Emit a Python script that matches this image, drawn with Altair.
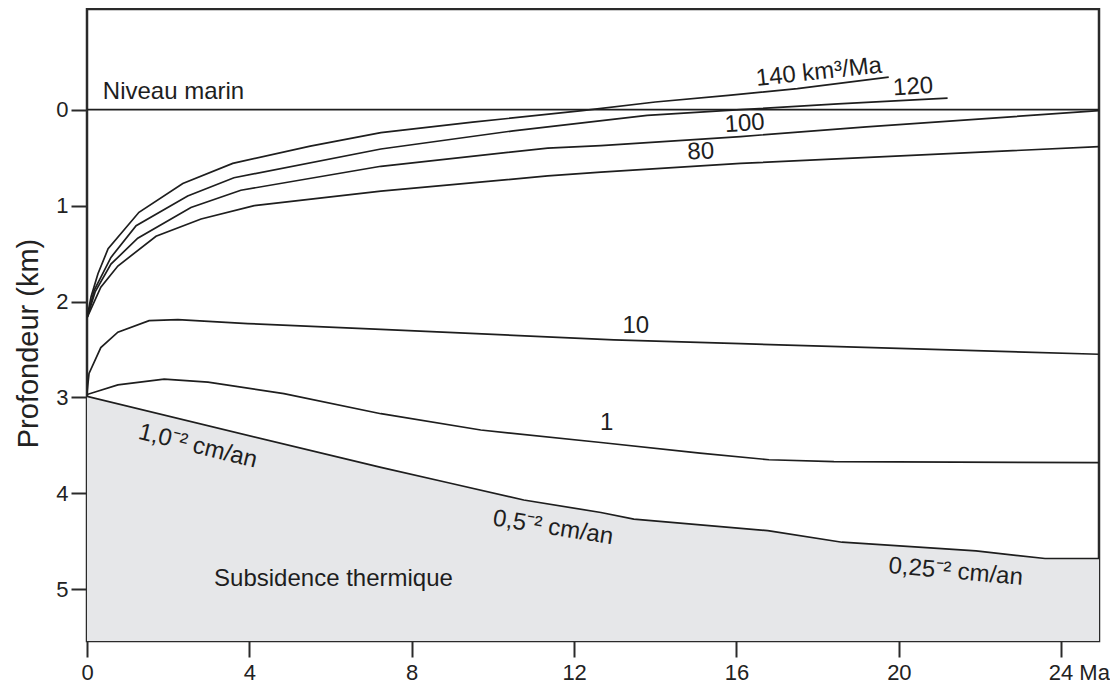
import altair as alt
import pandas as pd

# ---- data ----
age_140 = [0, 0.1, 0.27, 0.52, 1.28, 2.36, 3.59, 5.5, 7.24, 9.5, 12.2, 14.0, 15.8, 17.5, 19.75]
dep_140 = [2.17, 1.95, 1.71, 1.45, 1.07, 0.77, 0.56, 0.38, 0.24, 0.13, 0.01, -0.08, -0.15, -0.22, -0.34]

age_120 = [0, 0.18, 0.59, 1.21, 2.48, 3.62, 7.24, 10.5, 13.8, 16.1, 18.5, 21.2]
dep_120 = [2.17, 1.88, 1.54, 1.21, 0.90, 0.71, 0.41, 0.22, 0.06, 0.0, -0.06, -0.12]

age_100 = [0, 0.2, 0.59, 1.25, 2.56, 3.79, 7.24, 11.35, 12.66, 16.1, 19.2, 24.93]
dep_100 = [2.17, 1.90, 1.61, 1.34, 1.02, 0.84, 0.59, 0.40, 0.375, 0.28, 0.18, 0.01]

age_80 = [0, 0.34, 0.76, 1.70, 2.81, 4.12, 7.24, 11.35, 12.66, 16.1, 24.93]
dep_80 = [2.17, 1.85, 1.63, 1.32, 1.14, 1.00, 0.85, 0.69, 0.65, 0.56, 0.385]

age_10 = [0, 0.05, 0.34, 0.76, 1.53, 2.24, 3.96, 7.24, 12.98, 16.1, 24.93]
dep_10 = [2.95, 2.75, 2.48, 2.32, 2.20, 2.19, 2.23, 2.29, 2.40, 2.44, 2.55]

age_1 = [0, 0.76, 1.9, 2.98, 4.85, 7.24, 9.7, 12.66, 15.1, 16.8, 18.4, 24.93]
dep_1 = [2.97, 2.87, 2.81, 2.84, 2.96, 3.17, 3.34, 3.47, 3.58, 3.65, 3.67, 3.68]

age_sub = [0, 7.24, 8.9, 10.76, 12.66, 13.47, 16.77, 18.6, 21.9, 23.6, 24.93]
dep_sub = [2.99, 3.73, 3.89, 4.07, 4.20, 4.27, 4.39, 4.51, 4.60, 4.68, 4.68]

sea_age = [0, 24.93]
sea_dep = [0, 0]

x_ticks = [0, 4, 8, 12, 16, 20, 24]
y_ticks = [0, 1, 2, 3, 4, 5]
X_DOMAIN = [0, 24.93]
Y_DOMAIN = [-1.05, 5.54]

curve_names = ["140", "120", "100", "80", "10", "1", "sub", "sea"]
curve_ages = [age_140, age_120, age_100, age_80, age_10, age_1, age_sub, sea_age]
curve_deps = [dep_140, dep_120, dep_100, dep_80, dep_10, dep_1, dep_sub, sea_dep]

lbl_center_text = ["140 km³/Ma", "120", "100", "80", "10", "1",
                   "1,0⁻² cm/an", "0,5⁻² cm/an", "0,25⁻² cm/an"]
lbl_center_x = [18.03, 20.35, 16.2, 15.12, 13.52, 12.8, 2.73, 11.48, 21.40]
lbl_center_y = [-0.39, -0.235, 0.147, 0.44, 2.26, 3.27, 3.51, 4.36, 4.82]
lbl_center_angle = [354, 356, 356, 357, 0, 0, 14, 9, 5]

lbl_left_text = ["Niveau marin", "Subsidence thermique"]
lbl_left_x = [0.39, 3.13]
lbl_left_y = [-0.115, 4.97]

# ---- tables ----
rows = []
for name, a, d in zip(curve_names, curve_ages, curve_deps):
    for i, (xx, yy) in enumerate(zip(a, d)):
        rows.append({"curve": name, "order": i, "age": xx, "depth": yy})
lines_df = pd.DataFrame(rows)

area_df = pd.DataFrame({"age": age_sub, "depth": dep_sub, "bottom": [Y_DOMAIN[1]] * len(age_sub)})

center_df = pd.DataFrame({"text": lbl_center_text, "age": lbl_center_x,
                          "depth": lbl_center_y, "angle": lbl_center_angle})
left_df = pd.DataFrame({"text": lbl_left_text, "age": lbl_left_x, "depth": lbl_left_y})

FONT = "Liberation Sans"
INK = "#1e1e1e"

xs = alt.Scale(domain=X_DOMAIN, nice=False, zero=False)
ys = alt.Scale(domain=Y_DOMAIN, reverse=True, nice=False, zero=False)

x_axis = alt.Axis(
    values=x_ticks,
    title=None,
    format="d",
    labelExpr="datum.value == 24 ? '24 Ma' : datum.label",
    labelAlign={"condition": {"test": "datum.value == 24", "value": "left"}, "value": "center"},
    labelOffset={"condition": {"test": "datum.value == 24", "value": -13}, "value": 0},
    labelPadding=5,
)
y_axis = alt.Axis(
    values=y_ticks,
    format="d",
    title="Profondeur (km)",
    titleFontSize=29,
    titleFontWeight="normal",
    titleColor="#222222",
    titlePadding=12,
    titleY=334,
    labelPadding=3,
)

area = alt.Chart(area_df).mark_area(color="#e6e7e9", clip=True).encode(
    x=alt.X("age:Q", scale=xs, axis=x_axis),
    y=alt.Y("depth:Q", scale=ys, axis=y_axis),
    y2="bottom:Q",
)

lines = alt.Chart(lines_df).mark_line(color=INK, strokeWidth=1.7, clip=True).encode(
    x=alt.X("age:Q", scale=xs),
    y=alt.Y("depth:Q", scale=ys),
    detail="curve:N",
    order="order:Q",
)

center_text = alt.Chart(center_df).mark_text(
    font=FONT, fontSize=24, color=INK, align="center", baseline="middle"
).encode(
    x=alt.X("age:Q", scale=xs),
    y=alt.Y("depth:Q", scale=ys),
    text="text:N",
    angle=alt.Angle("angle:Q", scale=None),
)

left_text = alt.Chart(left_df).mark_text(
    font=FONT, fontSize=24, color=INK, align="left", baseline="alphabetic"
).encode(
    x=alt.X("age:Q", scale=xs),
    y=alt.Y("depth:Q", scale=ys),
    text="text:N",
)

chart = alt.layer(area, lines, center_text, left_text).properties(
    width=1012,
    height=632,
    padding={"left": 6, "top": 1, "right": 0, "bottom": 5},
    background="white",
).configure_view(
    stroke="#2a2a2a", strokeWidth=2.5
).configure_axis(
    domain=False,
    grid=False,
    ticks=True,
    tickColor="#2a2a2a",
    tickWidth=2,
    tickSize=16,
    labelFont=FONT,
    labelFontSize=22,
    labelColor="#222222",
    titleFont=FONT,
)

chart.save("out.html", embed_options={"renderer": "svg", "actions": False})
